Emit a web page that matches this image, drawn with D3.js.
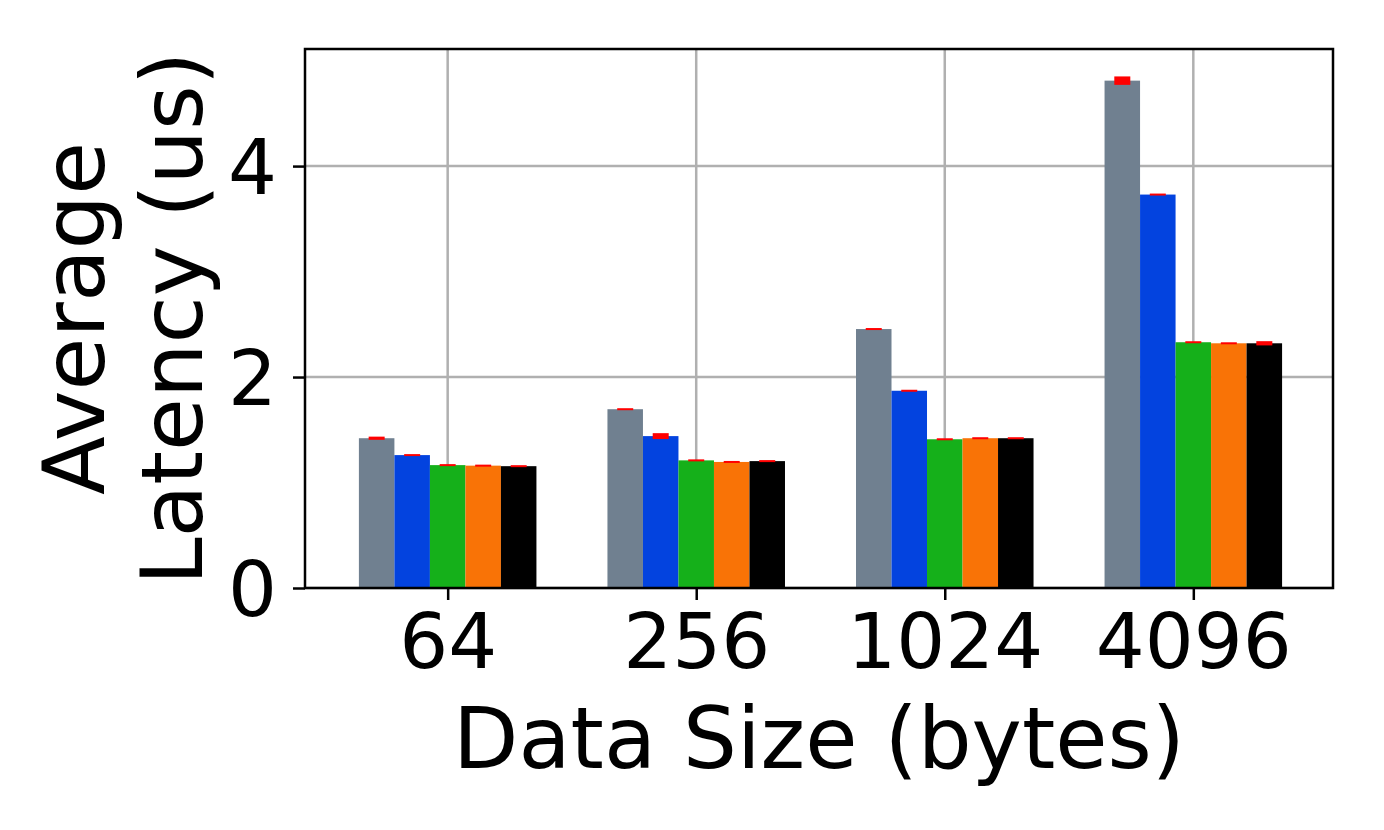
<!DOCTYPE html>
<html>
<head>
<meta charset="utf-8">
<script src="https://cdn.jsdelivr.net/npm/d3@7"></script>
<style>
  body { margin: 0; background: #fff; }
  text { font-family: "DejaVu Sans", sans-serif; }
</style>
</head>
<body>
<div id="chart"></div>
<script>
// data
let sizes = ["64", "256", "1024", "4096"];
let series = ["s1", "s2", "s3", "s4", "s5"];
let colors = ["#708090", "#0343df", "#15b01a", "#f97306", "#000000"];
let values = [
  [1.42, 1.26, 1.165, 1.16, 1.155],
  [1.695, 1.44, 1.21, 1.195, 1.203],
  [2.455, 1.87, 1.41, 1.42, 1.42],
  [4.81, 3.73, 2.33, 2.32, 2.32]
];
let errors = [
  [0.015, 0.004, 0.005, 0.006, 0.005],
  [0.004, 0.028, 0.005, 0.008, 0.005],
  [0.005, 0.006, 0.004, 0.008, 0.008],
  [0.04, 0.006, 0.004, 0.008, 0.02]
];
let yTicks = [0, 2, 4];

let W = 1384, H = 830;
let margin = {left: 305, right: 51, top: 49, bottom: 242};
let width = W - margin.left - margin.right;
let height = H - margin.top - margin.bottom;
let barW = 1 / 7;

let svg = d3.select("#chart").append("svg")
  .attr("width", W).attr("height", H);
let g = svg.append("g")
  .attr("transform", "translate(" + margin.left + "," + margin.top + ")");

let x = d3.scaleLinear().domain([-0.574, 3.562]).range([0, width]);
let y = d3.scaleLinear().domain([0, 5.11]).range([height, 0]);

// grid
g.selectAll(".vgrid").data(sizes).enter().append("line")
  .attr("x1", (d, i) => x(i)).attr("x2", (d, i) => x(i))
  .attr("y1", 0).attr("y2", height)
  .attr("stroke", "#b0b0b0").attr("stroke-width", 2.5);
g.selectAll(".hgrid").data(yTicks).enter().append("line")
  .attr("x1", 0).attr("x2", width)
  .attr("y1", d => y(d)).attr("y2", d => y(d))
  .attr("stroke", "#b0b0b0").attr("stroke-width", 2.5);

// bars
let flat = [];
values.forEach((row, i) => row.forEach((v, j) => flat.push({i: i, j: j, v: v, e: errors[i][j]})));

g.selectAll(".bar").data(flat).enter().append("rect")
  .attr("x", d => x(d.i + (d.j - 2.5) * barW))
  .attr("width", x(barW) - x(0))
  .attr("y", d => y(d.v))
  .attr("height", d => y(0) - y(d.v))
  .attr("fill", d => colors[d.j]);

// error bars
g.selectAll(".err").data(flat).enter().append("rect")
  .attr("x", d => x(d.i + (d.j - 2) * barW) - 8)
  .attr("width", 16)
  .attr("y", d => Math.min(y(d.v + d.e), y(d.v) - 1))
  .attr("height", d => Math.max(y(d.v - d.e) - y(d.v + d.e), 2))
  .attr("fill", "#ff0000");

// axes
let xAxis = g.append("g").attr("transform", "translate(0," + height + ")")
  .call(d3.axisBottom(x).tickValues([0, 1, 2, 3]).tickFormat((d) => sizes[d])
    .tickSize(12).tickPadding(13));
let yAxis = g.append("g")
  .call(d3.axisLeft(y).tickValues(yTicks).tickFormat(d3.format("d"))
    .tickSize(12).tickPadding(16));
[xAxis, yAxis].forEach(a => {
  a.select(".domain").remove();
  a.selectAll("line").attr("stroke", "#000").attr("stroke-width", 2.5);
  a.selectAll("text").attr("font-size", 77).attr("fill", "#000")
    .attr("font-family", "DejaVu Sans");
});
yAxis.selectAll("text").attr("dy", "0.36em");

// frame
g.append("rect").attr("width", width).attr("height", height)
  .attr("fill", "none").attr("stroke", "#000").attr("stroke-width", 2.5);

// labels
svg.append("text")
  .attr("x", margin.left + width / 2).attr("y", 768)
  .attr("text-anchor", "middle").attr("font-size", 85)
  .text("Data Size (bytes)");

let yl = svg.append("text")
  .attr("transform", "translate(104," + (margin.top + height / 2) + ") rotate(-90)")
  .attr("text-anchor", "middle").attr("font-size", 86);
yl.append("tspan").attr("x", 0).attr("y", 0).text("Average");
yl.append("tspan").attr("x", 0).attr("y", 98).text("Latency (us)");
</script>
</body>
</html>
